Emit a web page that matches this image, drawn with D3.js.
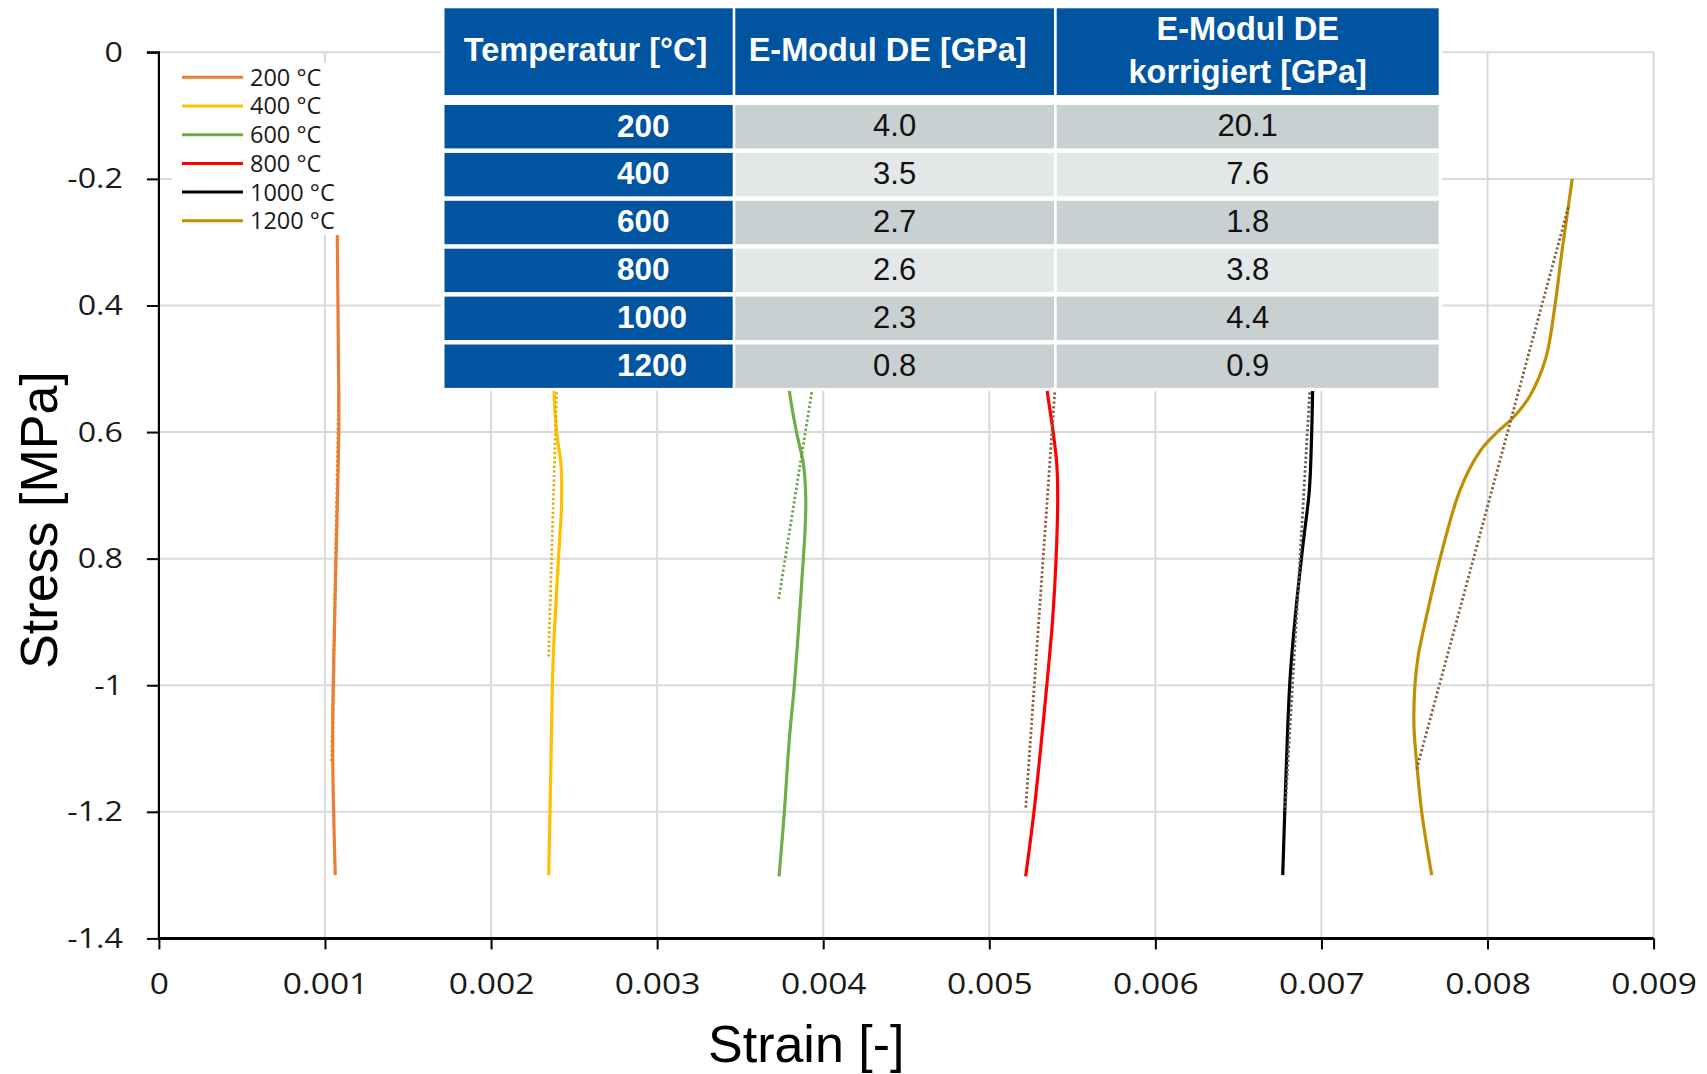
<!DOCTYPE html>
<html>
<head>
<meta charset="utf-8">
<script src="https://cdn.jsdelivr.net/npm/d3@7"></script>
<style>
  html, body { margin: 0; padding: 0; background: #ffffff; }
  svg { display: block; }
</style>
</head>
<body>
<svg id="chart" width="1707" height="1074"></svg>
<script>
// Strain values are given in units of 1e-3, stress in MPa (compression negative).
const seriesNames = ["200 °C", "400 °C", "600 °C", "800 °C", "1000 °C", "1200 °C"];
const seriesColors = ["#ED7D31", "#FFC000", "#70AD47", "#FF0000", "#000000", "#BF9000"];
const fitColors = ["#ED7D31", "#E6AE00", "#6A9F45", "#8C5A3C", "#5A5A5A", "#806040"];

const strain200 = [1.074, 1.074, 1.083, 1.083, 1.071, 1.066, 1.056, 1.050, 1.047, 1.062];
const stress200 = [-0.25, -0.288, -0.535, -0.60, -0.753, -0.804, -0.927, -1.00, -1.123, -1.30];

const strain400 = [2.379, 2.379, 2.395, 2.421, 2.425, 2.405, 2.379, 2.369, 2.359, 2.347];
const stress400 = [-0.52, -0.535, -0.601, -0.652, -0.709, -0.804, -0.927, -1.00, -1.145, -1.30];

const strain600 = [3.790, 3.796, 3.840, 3.880, 3.895, 3.890, 3.880, 3.856, 3.826, 3.796, 3.766, 3.734];
const stress600 = [-0.52, -0.535, -0.601, -0.649, -0.704, -0.758, -0.801, -0.894, -1.001, -1.085, -1.20, -1.302];

const strain800 = [5.345, 5.349, 5.385, 5.406, 5.412, 5.402, 5.382, 5.346, 5.315, 5.269, 5.219];
const stress800 = [-0.52, -0.535, -0.601, -0.649, -0.704, -0.801, -0.894, -1.001, -1.085, -1.20, -1.302];

const strain1000 = [6.949, 6.947, 6.941, 6.927, 6.887, 6.847, 6.811, 6.787, 6.767];
const stress1000 = [-0.52, -0.535, -0.603, -0.692, -0.782, -0.879, -0.990, -1.139, -1.30];

const strain1200 = [8.510, 8.486, 8.446, 8.406, 8.351, 8.255, 8.155, 8.055, 7.950, 7.834, 7.713, 7.643, 7.583, 7.563, 7.557, 7.577, 7.604, 7.664];
const stress1200 = [-0.200, -0.245, -0.319, -0.400, -0.483, -0.543, -0.577, -0.601, -0.632, -0.692, -0.801, -0.879, -0.953, -1.000, -1.065, -1.132, -1.201, -1.300];

// Linear fits: start and end points (strain 1e-3, stress MPa)
const fitStrain = [[1.083, 1.040], [2.395, 2.346], [3.935, 3.730], [5.396, 5.219], [6.931, 6.781], [8.486, 7.574]];
const fitStress = [[-0.535, -1.123], [-0.537, -0.957], [-0.53, -0.867], [-0.53, -1.195], [-0.53, -1.199], [-0.245, -1.132]];

const xTickValues = [0, 0.001, 0.002, 0.003, 0.004, 0.005, 0.006, 0.007, 0.008, 0.009];
const xTickLabels = ["0", "0.001", "0.002", "0.003", "0.004", "0.005", "0.006", "0.007", "0.008", "0.009"];
const yTickValues = [0, -0.2, -0.4, -0.6, -0.8, -1.0, -1.2, -1.4];
const yTickLabels = ["0", "-0.2", "0.4", "0.6", "0.8", "-1", "-1.2", "-1.4"];

// Table of moduli
const tableHeaders = ["Temperatur [°C]", "E-Modul DE [GPa]", "E-Modul DE\nkorrigiert [GPa]"];
const tableTemps = [200, 400, 600, 800, 1000, 1200];
const tableModulus = [4.0, 3.5, 2.7, 2.6, 2.3, 0.8];
const tableModulusCorr = [20.1, 7.6, 1.8, 3.8, 4.4, 0.9];

const svg = d3.select("#chart");

const x = d3.scaleLinear().domain([0, 0.009]).range([158.9, 1653.6]);
const y = d3.scaleLinear().domain([0, -1.4]).range([52.3, 938.4]);

// Gridlines
const grid = svg.append("g").attr("stroke", "#d9d9d9").attr("stroke-width", 2);
grid.selectAll("line.v").data(xTickValues.slice(1)).join("line")
  .attr("x1", d => x(d)).attr("x2", d => x(d))
  .attr("y1", y(0)).attr("y2", y(-1.4));
grid.selectAll("line.h").data(yTickValues.slice(0, -1)).join("line")
  .attr("x1", x(0)).attr("x2", x(0.009))
  .attr("y1", d => y(d)).attr("y2", d => y(d));

// Measured curves
const strains = [strain200, strain400, strain600, strain800, strain1000, strain1200];
const stresses = [stress200, stress400, stress600, stress800, stress1000, stress1200];

const line = d3.line()
  .x(d => x(d[0] / 1000))
  .y(d => y(d[1]))
  .curve(d3.curveCatmullRom.alpha(0.5));

const curves = svg.append("g").attr("fill", "none");
strains.forEach((s, i) => {
  const pts = s.map((v, j) => [v, stresses[i][j]]);
  curves.append("path")
    .attr("d", line(pts))
    .attr("stroke", seriesColors[i])
    .attr("stroke-width", 3.2)
    .attr("stroke-linecap", "butt");
});

// Linear fit lines (dotted)
const fitLine = d3.line().x(d => x(d[0] / 1000)).y(d => y(d[1]));
fitStrain.forEach((s, i) => {
  const pts = s.map((v, j) => [v, fitStress[i][j]]);
  curves.append("path")
    .attr("d", fitLine(pts))
    .attr("stroke", fitColors[i])
    .attr("stroke-width", 2.8)
    .attr("stroke-dasharray", "2.2 2.4");
});

// Axes
const yAxis = d3.axisLeft(y)
  .tickValues(yTickValues)
  .tickFormat((d, i) => yTickLabels[i])
  .tickSize(12).tickPadding(24);
const gy = svg.append("g").attr("transform", `translate(${x(0)},0)`).call(yAxis);
gy.select(".domain").attr("stroke", "#000").attr("stroke-width", 2.2).attr("d", `M-12,${y(0)}H0V${y(-1.4)}`);
gy.selectAll(".tick line").attr("stroke", "#000").attr("stroke-width", 2);
gy.selectAll(".tick text")
  .attr("font-family", "'Open Sans', sans-serif")
  .attr("font-size", 28)
  .attr("fill", "#1a1a1a")
  .attr("x", 0)
  .attr("transform", "translate(-36,0) scale(1.15,1)");

const xAxis = d3.axisBottom(x)
  .tickValues(xTickValues)
  .tickFormat((d, i) => xTickLabels[i])
  .tickSize(11).tickPadding(23);
const gx = svg.append("g").attr("transform", `translate(0,${y(-1.4)})`).call(xAxis);
gx.select(".domain").attr("stroke", "#000").attr("stroke-width", 3).attr("d", `M${x(0)},0H${x(0.009)}`);
gx.selectAll(".tick line").attr("stroke", "#000").attr("stroke-width", 2);
gx.selectAll(".tick text")
  .attr("font-family", "'Open Sans', sans-serif")
  .attr("font-size", 30)
  .attr("fill", "#1a1a1a")
  .attr("y", 0)
  .attr("transform", "translate(0,34) scale(1.12,1)");

// Axis titles
svg.append("text")
  .attr("transform", "translate(57,520) rotate(-90)")
  .attr("text-anchor", "middle")
  .attr("font-family", "'Liberation Sans', Arial, sans-serif")
  .attr("font-size", 52)
  .attr("fill", "#000")
  .text("Stress [MPa]");

svg.append("text")
  .attr("x", 708).attr("y", 1062)
  .attr("font-family", "'Liberation Sans', Arial, sans-serif")
  .attr("font-size", 52)
  .attr("fill", "#000")
  .text("Strain [-]");

// Legend
const legend = svg.append("g");
legend.append("rect").attr("x", 172).attr("y", 63).attr("width", 269).attr("height", 172).attr("fill", "#fff");
seriesNames.forEach((name, i) => {
  const ly = 77.3 + i * 28.7;
  legend.append("line").attr("x1", 182).attr("x2", 243).attr("y1", ly).attr("y2", ly)
    .attr("stroke", seriesColors[i]).attr("stroke-width", 3);
  legend.append("text").attr("x", 250).attr("y", ly).attr("dy", "0.36em")
    .attr("font-family", "'Open Sans', sans-serif").attr("font-size", 23.5)
    .attr("fill", "#1a1a1a").text(name);
});

// Table
const colX = [444.5, 735.3, 1056.7];
const colW = [288.2, 318.7, 382.0];
const headerTop = 8.3, headerH = 86.7;
const rowTop = 105, rowPitch = 47.9, rowH = 43.4;
const rowFill = ["#C9D0D2", "#E4E7E8", "#C9D0D2", "#E4E7E8", "#C9D0D2", "#C9D0D2"];
const blue = "#0054A0";
const headerShift = [-3, -7, 0];

const table = svg.append("g").attr("font-family", "'Liberation Sans', Arial, sans-serif");
table.append("rect").attr("x", 441).attr("y", 4).attr("width", 1001).attr("height", 387).attr("fill", "#fff");

tableHeaders.forEach((h, c) => {
  table.append("rect").attr("x", colX[c]).attr("y", headerTop).attr("width", colW[c]).attr("height", headerH).attr("fill", blue);
  const lines = h.split("\n");
  const cy = headerTop + headerH / 2 - 2;
  lines.forEach((ln, k) => {
    table.append("text")
      .attr("x", colX[c] + colW[c] / 2 + headerShift[c])
      .attr("y", cy + (k - (lines.length - 1) / 2) * 43)
      .attr("dy", "0.36em")
      .attr("text-anchor", "middle")
      .attr("font-weight", "bold").attr("font-size", 32.5).attr("fill", "#fff")
      .text(ln);
  });
});

tableTemps.forEach((t, r) => {
  const top = rowTop + r * rowPitch;
  const cy = top + rowH / 2 - 1.5;
  table.append("rect").attr("x", colX[0]).attr("y", top).attr("width", colW[0]).attr("height", rowH).attr("fill", blue);
  table.append("rect").attr("x", colX[1]).attr("y", top).attr("width", colW[1]).attr("height", rowH).attr("fill", rowFill[r]);
  table.append("rect").attr("x", colX[2]).attr("y", top).attr("width", colW[2]).attr("height", rowH).attr("fill", rowFill[r]);
  table.append("text").attr("x", 617).attr("y", cy).attr("dy", "0.36em")
    .attr("font-weight", "bold").attr("font-size", 31.5).attr("fill", "#fff").text(t);
  table.append("text").attr("x", colX[1] + colW[1] / 2).attr("y", cy).attr("dy", "0.36em")
    .attr("text-anchor", "middle").attr("font-size", 31).attr("fill", "#111").text(tableModulus[r].toFixed(1));
  table.append("text").attr("x", colX[2] + colW[2] / 2).attr("y", cy).attr("dy", "0.36em")
    .attr("text-anchor", "middle").attr("font-size", 31).attr("fill", "#111").text(tableModulusCorr[r].toFixed(1));
});
</script>
</body>
</html>
